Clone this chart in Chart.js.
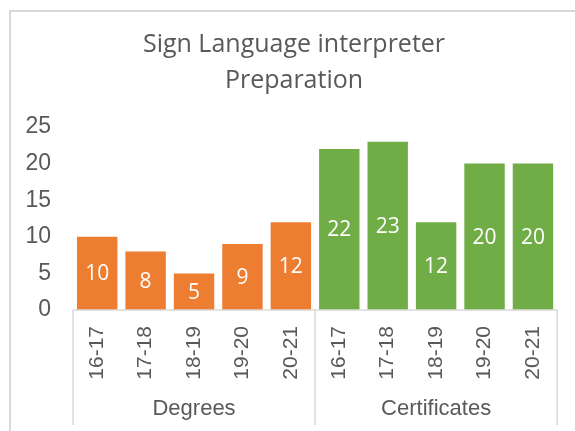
<!DOCTYPE html>
<html>
<head>
<meta charset="utf-8">
<script src="https://cdn.jsdelivr.net/npm/chart.js@4/dist/chart.umd.min.js"></script>
<style>
  html, body { margin: 0; padding: 0; background: #fff; }
</style>
</head>
<body>
<canvas id="chart" width="575" height="431"></canvas>
<script>
// Data
const titleLines = ['Sign Language interpreter', 'Preparation'];
const periods = ['16-17', '17-18', '18-19', '19-20', '20-21', '16-17', '17-18', '18-19', '19-20', '20-21'];
const values = [10, 8, 5, 9, 12, 22, 23, 12, 20, 20];
const groups = ['Degrees', 'Certificates'];
const groupSizes = [5, 5];
const groupColors = ['#ED7D31', '#70AD47'];
const yMin = 0;
const yMax = 25;
const yStep = 5;

const textColor = '#595959';
const lineColor = '#d9d9d9';

// one colour per bar, taken from its group
const barColors = [];
groups.forEach((g, i) => {
    for (let k = 0; k < groupSizes[i]; k++) barColors.push(groupColors[i]);
});

// light frame round the chart (left and top edges are visible)
const framePlugin = {
    id: 'frame',
    beforeDraw(chart) {
        const ctx = chart.ctx;
        ctx.save();
        ctx.fillStyle = lineColor;
        ctx.fillRect(9, 11, 2, chart.height - 11);
        ctx.fillRect(9, 10, chart.width - 9, 2);
        ctx.restore();
    }
};

// title centred on the frame, not on the canvas
const titlePlugin = {
    id: 'frameTitle',
    afterDraw(chart) {
        const ctx = chart.ctx;
        ctx.save();
        ctx.fillStyle = textColor;
        ctx.font = '25px "Open Sans"';
        ctx.textAlign = 'center';
        ctx.textBaseline = 'middle';
        titleLines.forEach((line, i) => {
            ctx.fillText(line, 294, 45 + i * 36);
        });
        ctx.restore();
    }
};

// value written in the middle of each bar
const valueLabels = {
    id: 'valueLabels',
    afterDatasetsDraw(chart) {
        const ctx = chart.ctx;
        const meta = chart.getDatasetMeta(0);
        ctx.save();
        ctx.font = '21px "Open Sans"';
        ctx.fillStyle = '#ffffff';
        ctx.textAlign = 'center';
        ctx.textBaseline = 'middle';
        meta.data.forEach((bar, i) => {
            const p = bar.getProps(['x', 'y', 'base'], true);
            ctx.fillText(String(values[i]), p.x, (p.y + p.base) / 2 + 1);
        });
        ctx.restore();
    }
};

// second level of the category axis: group names and separators
const groupAxis = {
    id: 'groupAxis',
    afterDraw(chart) {
        const ctx = chart.ctx;
        const x = chart.scales.x;
        const area = chart.chartArea;
        const half = (x.getPixelForValue(1) - x.getPixelForValue(0)) / 2;
        const bottom = 425;
        ctx.save();
        ctx.strokeStyle = lineColor;
        ctx.lineWidth = 1.5;
        ctx.beginPath();
        ctx.moveTo(area.left, area.bottom);
        ctx.lineTo(area.right, area.bottom);
        let start = 0;
        const edges = [x.getPixelForValue(0) - half];
        groupSizes.forEach(n => {
            start += n;
            edges.push(x.getPixelForValue(start - 1) + half);
        });
        edges.forEach(e => {
            ctx.moveTo(e, area.bottom);
            ctx.lineTo(e, bottom);
        });
        ctx.stroke();

        ctx.fillStyle = textColor;
        ctx.font = '22px "Liberation Sans"';
        ctx.textAlign = 'center';
        ctx.textBaseline = 'middle';
        groups.forEach((g, i) => {
            ctx.fillText(g, (edges[i] + edges[i + 1]) / 2, 409);
        });
        ctx.restore();
    }
};

new Chart(document.getElementById('chart'), {
    type: 'bar',
    data: {
        labels: periods,
        datasets: [{
            data: values,
            backgroundColor: barColors,
            borderWidth: 0,
            barPercentage: 0.835,
            categoryPercentage: 1.0
        }]
    },
    options: {
        responsive: false,
        animation: false,
        events: [],
        layout: {
            padding: { left: 0, right: 17, top: 127, bottom: 0 }
        },
        plugins: {
            legend: { display: false },
            tooltip: { enabled: false },
            title: { display: false }
        },
        scales: {
            x: {
                grid: { display: false, drawTicks: false },
                border: { display: false },
                ticks: {
                    color: textColor,
                    font: { family: '"Liberation Sans"', size: 21 },
                    minRotation: 90,
                    maxRotation: 90,
                    autoSkip: false,
                    padding: 16
                },
                afterFit(scale) {
                    scale.height = 121;
                }
            },
            y: {
                min: yMin,
                max: yMax,
                grid: { display: false, drawTicks: false },
                border: { display: false },
                ticks: {
                    stepSize: yStep,
                    color: textColor,
                    font: { family: '"Liberation Sans"', size: 23 },
                    padding: 22
                },
                afterFit(scale) {
                    scale.width = 73;
                }
            }
        }
    },
    plugins: [framePlugin, titlePlugin, valueLabels, groupAxis]
});
</script>
</body>
</html>
